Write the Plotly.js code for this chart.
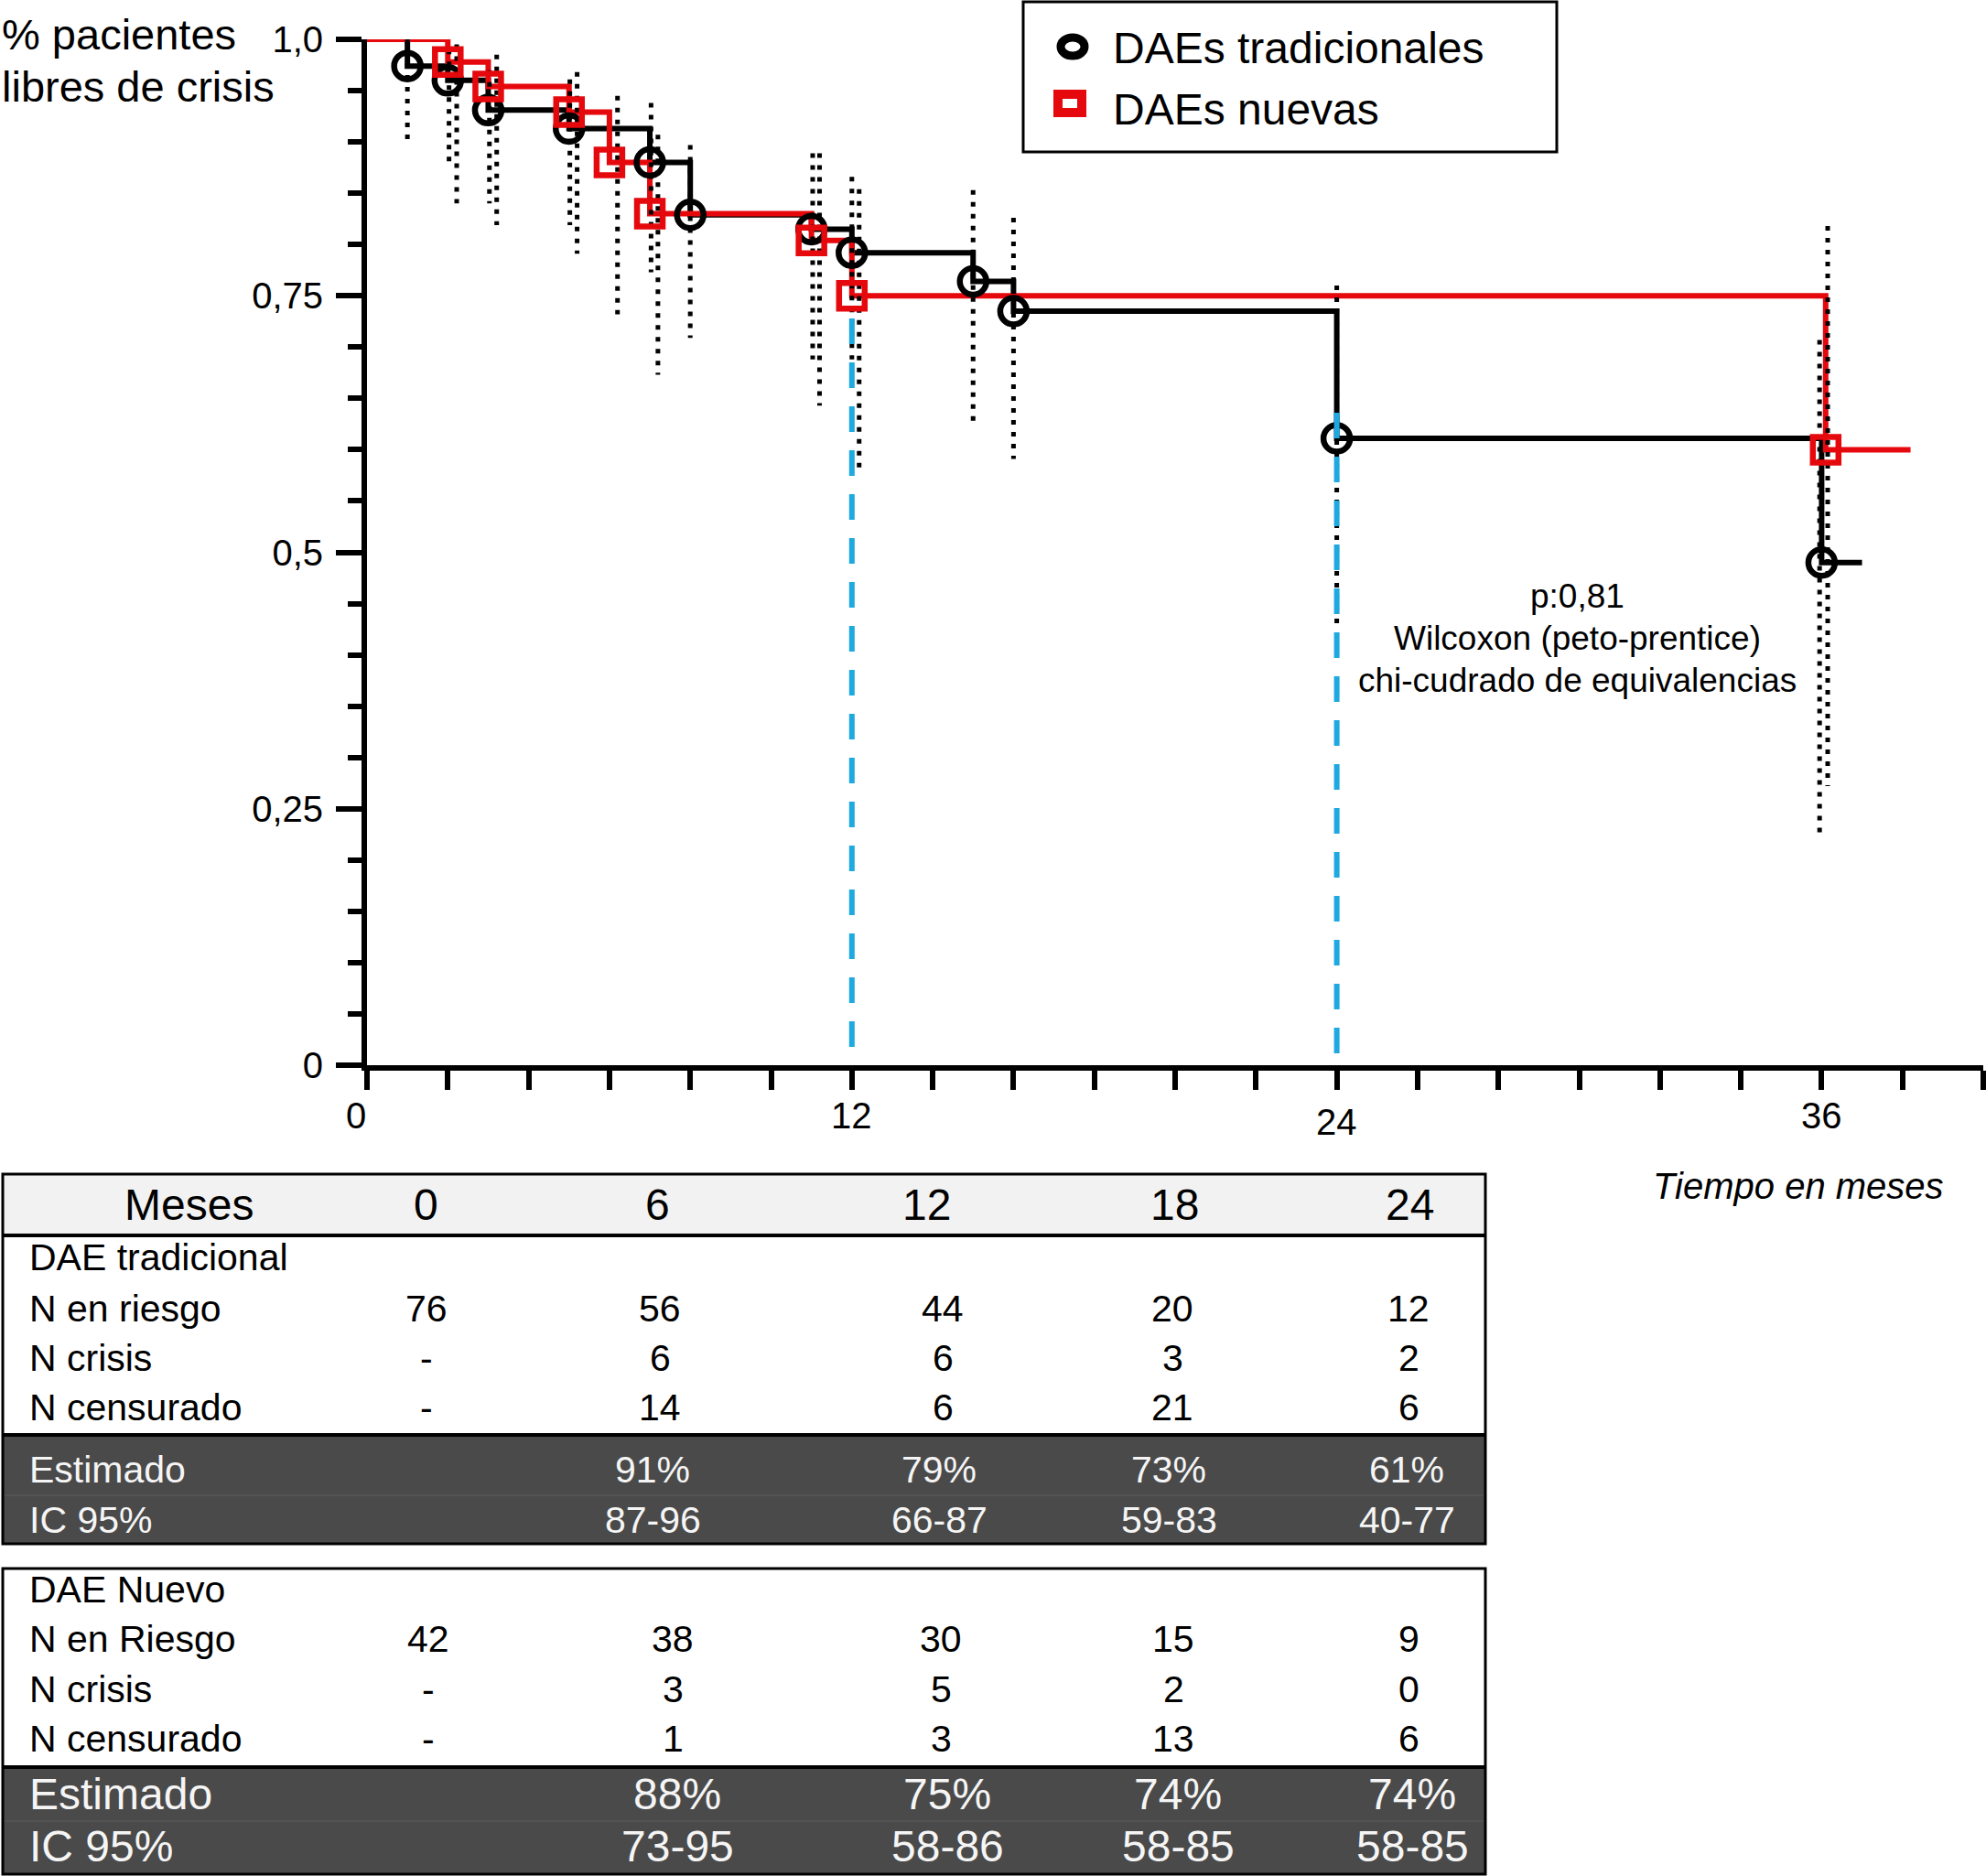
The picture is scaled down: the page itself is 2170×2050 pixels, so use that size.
<!DOCTYPE html>
<html>
<head>
<meta charset="utf-8">
<script src="https://cdn.plot.ly/plotly-3.0.1.min.js"></script>
<style>
  html, body { margin: 0; padding: 0; background: #ffffff; }
  #chart { width: 2170px; height: 2050px; }
</style>
</head>
<body>
<div id="chart"></div>
<script>
// ─── Data ─────────────────────────────────────────────────────────────────────

// Kaplan-Meier estimates (months, proportion seizure free)
const tradTimes = [0, 1, 2, 3, 5, 7, 8, 11, 12, 15, 16, 24, 36, 37];
const tradSurv  = [1, 0.974, 0.96, 0.931, 0.913, 0.88, 0.829, 0.815, 0.792, 0.764, 0.735, 0.611, 0.49, 0.49];
const newTimes  = [0, 2, 3, 5, 6, 7, 11, 12, 36.1, 38.2];
const newSurv   = [1, 0.978, 0.954, 0.929, 0.88, 0.83, 0.804, 0.75, 0.6, 0.6];

// 95% confidence bands (dotted verticals)
const tradCiTimes = [1, 2.03, 3.03, 5.02, 7.03, 8, 11.03, 12, 15, 16, 24, 35.95];
const tradCiLow   = [0.899, 0.88, 0.84, 0.819, 0.773, 0.709, 0.688, 0.688, 0.628, 0.591, 0.43, 0.22];
const tradCiHigh  = [1.0, 0.99, 0.97, 0.961, 0.938, 0.897, 0.889, 0.866, 0.853, 0.826, 0.76, 0.707];
const newCiTimes  = [2.22, 3.21, 5.2, 6.2, 7.2, 11.2, 12.18, 36.15];
const newCiLow    = [0.84, 0.819, 0.791, 0.732, 0.673, 0.643, 0.582, 0.272];
const newCiHigh   = [0.995, 0.985, 0.968, 0.945, 0.907, 0.889, 0.854, 0.818];

// blue reference lines at 12 and 24 months
const refTimes = [12, 24];
const refTops  = [0.728, 0.636];

// axes
const yTickVals  = [0, 0.25, 0.5, 0.75, 1];
const yTickText  = ['0', '0,25', '0,5', '0,75', '1,0'];
const xLabelVals = [0, 12, 24, 36];
const xLongTicks = [10, 20, 30];

const legendNames = ['DAEs tradicionales', 'DAEs nuevas'];
const statLines = ['p:0,81', 'Wilcoxon (peto-prentice)', 'chi-cudrado de equivalencias'];
const yTitleLines = ['% pacientes', 'libres de crisis'];

// life table
const months = ['0', '6', '12', '18', '24'];
const tradAtRisk   = [76, 56, 44, 20, 12];
const tradCrisis   = [null, 6, 6, 3, 2];
const tradCensored = [null, 14, 6, 21, 6];
const tradEstimate = [null, 91, 79, 73, 61];
const tradCI95     = ['', '87-96', '66-87', '59-83', '40-77'];
const newAtRisk    = [42, 38, 30, 15, 9];
const newCrisis    = [null, 3, 5, 2, 0];
const newCensored  = [null, 1, 3, 13, 6];
const newEstimate  = [null, 88, 75, 74, 74];
const newCI95      = ['', '73-95', '58-86', '58-85', '58-85'];

// ─── Helpers ──────────────────────────────────────────────────────────────────

const W = 2170, H = 2050;
const FONT = 'Liberation Sans, Arial, Helvetica, sans-serif';
const RED = '#e5080c';
const BLUE = '#1ea9e0';
const DARK = '#4a4a4a';

const fx = x => x / W;
const fy = y => 1 - y / H;

function note(text, x, y, size, opts = {}) {
    return Object.assign({
        xref: 'paper', yref: 'paper',
        x: fx(x), y: fy(y),
        text, showarrow: false,
        xanchor: 'center', yanchor: 'middle',
        font: { family: FONT, size, color: '#000000' },
    }, opts);
}

function rect(x0, y0, x1, y1, fill, lineWidth, lineColor) {
    return {
        type: 'rect', xref: 'paper', yref: 'paper',
        x0: fx(x0), x1: fx(x1), y0: fy(y0), y1: fy(y1),
        fillcolor: fill || 'rgba(0,0,0,0)',
        line: { width: lineWidth || 0, color: lineColor || '#000000' },
    };
}

function hline(x0, x1, y, width, color) {
    return {
        type: 'line', xref: 'paper', yref: 'paper',
        x0: fx(x0), x1: fx(x1), y0: fy(y), y1: fy(y),
        line: { width, color: color || '#000000' },
    };
}

// vertical segments separated by nulls
function segments(times, lo, hi) {
    const x = [], y = [];
    times.forEach((t, i) => {
        x.push(t, t, null);
        y.push(hi[i], lo[i], null);
    });
    return { x, y };
}

const fmtCount = v => (v == null ? '-' : String(v));
const fmtPct = v => (v == null ? '' : v + '%');

// ─── Traces ───────────────────────────────────────────────────────────────────

const tradCi = segments(tradCiTimes, tradCiLow, tradCiHigh);
const newCi = segments(newCiTimes, newCiLow, newCiHigh);
const refs = segments(refTimes, refTimes.map(() => 0), refTops);

const base = { cliponaxis: false, hoverinfo: 'skip', showlegend: false };

const traces = [
    Object.assign({
        type: 'scatter', mode: 'lines', x: tradTimes, y: tradSurv,
        line: { color: '#000000', width: 6, shape: 'hv' },
    }, base),
    Object.assign({
        type: 'scatter', mode: 'lines', x: newTimes, y: newSurv,
        line: { color: RED, width: 6, shape: 'hv' },
    }, base),
    Object.assign({
        type: 'scatter', mode: 'lines', x: tradCi.x, y: tradCi.y,
        line: { color: '#000000', width: 5, dash: '5px,8px' },
    }, base),
    Object.assign({
        type: 'scatter', mode: 'lines', x: newCi.x, y: newCi.y,
        line: { color: '#000000', width: 5, dash: '5px,8px' },
    }, base),
    Object.assign({
        type: 'scatter', mode: 'markers',
        x: tradTimes.slice(1, -1), y: tradSurv.slice(1, -1),
        marker: { symbol: 'circle-open', size: 29, color: '#000000', line: { width: 6.5, color: '#000000' } },
    }, base),
    Object.assign({
        type: 'scatter', mode: 'markers',
        x: newTimes.slice(1, -1), y: newSurv.slice(1, -1),
        marker: { symbol: 'square-open', size: 28, color: RED, line: { width: 6.5, color: RED } },
    }, base),
    Object.assign({
        type: 'scatter', mode: 'lines', x: refs.x, y: refs.y,
        line: { color: BLUE, width: 6, dash: '28px,20px' },
    }, base),
];

// ─── Layout ───────────────────────────────────────────────────────────────────

const xDomain = [fx(401), fx(2167)];
const yDomain = [fy(1164), fy(43)];

const xTickVals = [];
for (let m = 0; m <= 40; m += 2) xTickVals.push(m);

const annotations = [];
const shapes = [];

// y title, top left
yTitleLines.forEach((t, i) => {
    annotations.push(note(t, 0, 37 + i * 57, 47, { xanchor: 'left' }));
});

// x tick labels
xLabelVals.forEach(v => {
    annotations.push({
        xref: 'x', yref: 'paper', x: v, y: fy(v === 24 ? 1226 : 1219),
        xshift: v === 0 ? -12 : 0,
        text: String(v), showarrow: false, xanchor: 'center', yanchor: 'middle',
        font: { family: FONT, size: 40, color: '#000000' },
    });
});

annotations.push(note('<i>Tiempo en meses</i>', 1965, 1296, 40));

// test statistics
statLines.forEach((t, i) => annotations.push(note(t, 1723, 651 + i * 46, 37)));

// legend box
shapes.push(rect(1118, 2, 1701, 166, null, 3));
shapes.push({
    type: 'circle', xref: 'paper', yref: 'paper',
    x0: fx(1172 - 13), x1: fx(1172 + 13), y0: fy(51 - 10), y1: fy(51 + 10),
    line: { width: 9, color: '#000000' },
});
shapes.push(rect(1169 - 13, 113 - 10, 1169 + 13, 113 + 10, null, 10, RED));
legendNames.forEach((t, i) => {
    annotations.push(note(t, 1214, 52 + i * 67, 48, { xanchor: 'left' }));
});

// ─── Life table ───────────────────────────────────────────────────────────────

const TL = 3, TR = 1623, LABEL_X = 30;

function bodyRows(title, rows, cols, yTitle, yRows, size) {
    annotations.push(note(title, LABEL_X, yTitle, size, { xanchor: 'left' }));
    rows.forEach(([label, vals], r) => {
        annotations.push(note(label, LABEL_X, yRows[r], size, { xanchor: 'left' }));
        vals.forEach((v, c) => annotations.push(note(v, cols[c], yRows[r], size)));
    });
}

function darkRows(rows, cols, yRows, size) {
    rows.forEach(([label, vals], r) => {
        const white = { family: FONT, size, color: '#f5f5f5' };
        annotations.push(note(label, LABEL_X, yRows[r], size, { xanchor: 'left', font: white }));
        vals.forEach((v, c) => {
            if (v) annotations.push(note(v, cols[c], yRows[r], size, { font: white }));
        });
    });
}

// table 1 (traditional AEDs)
shapes.push(rect(TL, 1283, TR, 1350, '#f2f2f2'));
shapes.push(rect(TL, 1568, TR, 1687, DARK));
shapes.push(hline(TL, TR, 1634, 1, '#5c5c5c'));
shapes.push(rect(TL, 1283, TR, 1687, null, 3));
shapes.push(hline(TL, TR, 1350, 4));
shapes.push(hline(TL, TR, 1568, 4));

annotations.push(note('Meses', 206, 1316, 48));
const headCols = [465, 718, 1012, 1283, 1540];
months.forEach((m, c) => annotations.push(note(m, headCols[c], 1316, 48)));

const t1Cols = [466, 721, 1030, 1281, 1539];
bodyRows('DAE tradicional', [
    ['N en riesgo', tradAtRisk.map(fmtCount)],
    ['N crisis', tradCrisis.map(fmtCount)],
    ['N censurado', tradCensored.map(fmtCount)],
], t1Cols, 1374, [1430, 1484, 1538], 41);
darkRows([
    ['Estimado', tradEstimate.map(fmtPct)],
    ['IC 95%', tradCI95],
], [466, 713, 1026, 1277, 1537], [1606, 1661], 41);

// table 2 (new AEDs)
shapes.push(rect(TL, 1931, TR, 2048, DARK));
shapes.push(hline(TL, TR, 1990, 1, '#5c5c5c'));
shapes.push(rect(TL, 1714, TR, 2048, null, 3));
shapes.push(hline(TL, TR, 1931, 4));

const t2Cols = [468, 735, 1028, 1282, 1539];
bodyRows('DAE Nuevo', [
    ['N en Riesgo', newAtRisk.map(fmtCount)],
    ['N crisis', newCrisis.map(fmtCount)],
    ['N censurado', newCensored.map(fmtCount)],
], t2Cols, 1737, [1791, 1846, 1900], 41);
darkRows([
    ['Estimado', newEstimate.map(fmtPct)],
    ['IC 95%', newCI95],
], [468, 740, 1035, 1287, 1543], [1960, 2017], 48);

// ─── Render ───────────────────────────────────────────────────────────────────

const axisCommon = {
    showgrid: false, zeroline: false,
    linecolor: '#000000', linewidth: 6,
    tickcolor: '#000000', tickwidth: 6,
    tickfont: { family: FONT, size: 40, color: '#000000' },
};

const layout = {
    width: W, height: H,
    margin: { l: 0, r: 0, t: 0, b: 0 },
    paper_bgcolor: '#ffffff',
    plot_bgcolor: 'rgba(0,0,0,0)',
    font: { family: FONT, color: '#000000' },
    showlegend: false,
    xaxis: Object.assign({}, axisCommon, {
        domain: xDomain, range: [0, 40], anchor: 'y',
        showline: true, ticks: 'outside', ticklen: 21,
        tickmode: 'array', tickvals: xTickVals, showticklabels: false,
    }),
    xaxis2: Object.assign({}, axisCommon, {
        domain: xDomain, range: [0, 40], anchor: 'y', overlaying: 'x', side: 'bottom',
        showline: false, ticks: 'outside', ticklen: 30,
        tickmode: 'array', tickvals: xLongTicks, showticklabels: false,
    }),
    yaxis: Object.assign({}, axisCommon, {
        domain: yDomain, range: [0, 1], anchor: 'x',
        showline: true, ticks: 'outside', ticklen: 28,
        tickmode: 'array', tickvals: yTickVals, ticktext: yTickText,
        ticklabelstandoff: 6,
        minor: { tickmode: 'linear', tick0: 0, dtick: 0.05, ticks: 'outside', ticklen: 15, tickwidth: 6, tickcolor: '#000000' },
    }),
    shapes,
    annotations,
};

Plotly.newPlot('chart', traces, layout, { staticPlot: true, displayModeBar: false });
</script>
</body>
</html>
